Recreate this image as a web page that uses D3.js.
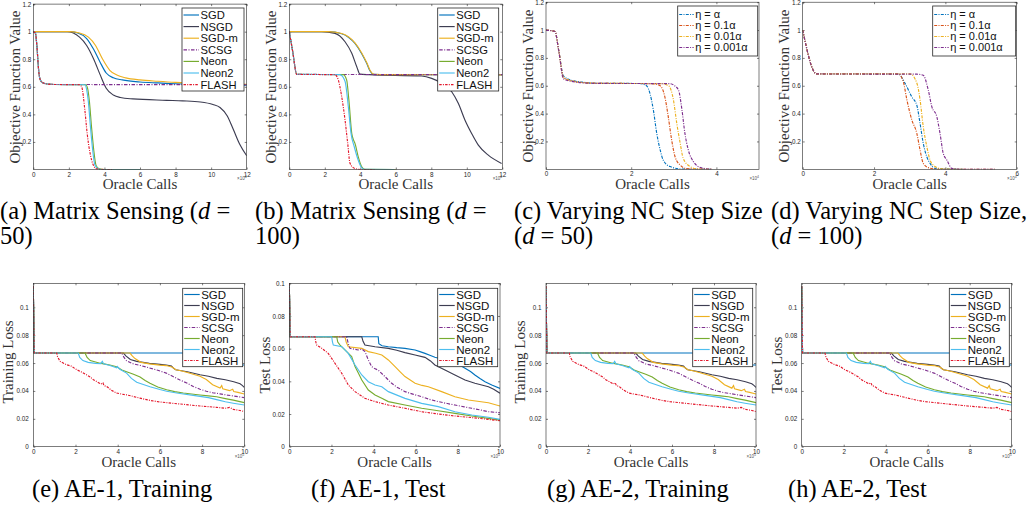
<!DOCTYPE html>
<html>
<head>
<meta charset="utf-8">
<script src="https://cdn.jsdelivr.net/npm/d3@7"></script>
<style>
  body { margin: 0; background: #fff; }
  svg { display: block; }
</style>
</head>
<body>
<svg id="fig" width="1030" height="506"></svg>
<script>
// ---- DATA (x in oracle calls / 10^k, y in objective / loss) ----
const methods = ['SGD', 'NSGD', 'SGD-m', 'SCSG', 'Neon', 'Neon2', 'FLASH'];
const etaLabels = ['η = α', 'η = 0.1α', 'η = 0.01α', 'η = 0.001α'];

// (a) matrix sensing d = 50
const aSGD = [[0,1],[2.0,1],[2.5,0.99],[3.0,0.95],[3.4,0.87],[3.75,0.78],[4.1,0.7],[4.5,0.665],[5,0.65],[6,0.635],[7,0.628],[8,0.622],[9,0.62],[10,0.618],[11,0.615],[12,0.612]];
const aNSGD = [[0,1],[1.9,1],[2.6,0.96],[3.0,0.9],[3.4,0.8],[3.75,0.69],[4.1,0.59],[4.5,0.54],[4.9,0.522],[5.6,0.512],[7.5,0.502],[8.4,0.498],[9.4,0.49],[10.1,0.472],[10.5,0.45],[10.9,0.39],[11.25,0.29],[11.6,0.185],[12,0.1]];
const aSGDm = [[0,1],[2.0,1],[2.6,0.99],[3.1,0.96],[3.5,0.9],[3.9,0.8],[4.3,0.72],[4.7,0.685],[5.2,0.665],[6,0.65],[7,0.64],[8,0.632],[9,0.627],[10,0.622],[11,0.62],[12,0.618]];
const aSCSG = [[0,1],[0.12,0.99],[0.2,0.9],[0.3,0.72],[0.38,0.655],[0.5,0.632],[0.8,0.62],[1.2,0.617],[12,0.615]];
const aNeon = [[0,1],[0.12,0.99],[0.2,0.9],[0.3,0.72],[0.38,0.655],[0.5,0.632],[0.8,0.62],[1.2,0.617],[2.95,0.615],[3.05,0.59],[3.15,0.5],[3.28,0.3],[3.4,0.14],[3.53,0.03],[3.7,0.005],[4,0],[6,0]];
const aNeon2 = [[0,1],[0.12,0.99],[0.2,0.9],[0.3,0.72],[0.38,0.655],[0.5,0.632],[0.8,0.62],[1.2,0.617],[2.9,0.615],[3.0,0.58],[3.09,0.5],[3.22,0.3],[3.34,0.14],[3.47,0.03],[3.66,0.004],[4,0],[6,0]];
const aFLASH = [[0,1],[0.12,0.99],[0.2,0.9],[0.3,0.72],[0.38,0.655],[0.5,0.632],[0.8,0.62],[1.2,0.617],[2.6,0.615],[2.72,0.6],[2.9,0.43],[3.03,0.26],[3.19,0.12],[3.38,0.03],[3.56,0.005],[4,0],[4.5,0]];

// (b) matrix sensing d = 100
const bSGD = [[0,1],[2.2,1],[2.95,0.985],[3.33,0.96],[3.7,0.915],[4.08,0.84],[4.36,0.77],[4.55,0.715],[4.75,0.69],[5.5,0.688],[12,0.687]];
const bNSGD = [[0,1],[1.82,1],[2.57,0.988],[3.14,0.927],[3.52,0.843],[3.8,0.746],[3.98,0.692],[4.5,0.688],[7.46,0.678],[8.02,0.661],[8.59,0.625],[9.15,0.564],[9.52,0.48],[9.9,0.358],[10.28,0.26],[10.65,0.177],[11.21,0.104],[11.96,0.044]];
const bSGDm = [[0,1],[2.2,1],[2.95,0.987],[3.33,0.963],[3.7,0.918],[4.08,0.845],[4.38,0.77],[4.57,0.715],[4.78,0.69],[5.5,0.688],[12,0.687]];
const bSCSG = [[0,1],[0.2,0.85],[0.42,0.69],[12,0.688]];
const bNeon = [[0,1],[0.2,0.85],[0.42,0.69],[3.04,0.688],[3.23,0.65],[3.36,0.5],[3.52,0.26],[3.6,0.22],[3.7,0.19],[3.89,0.09],[4.08,0.02],[4.26,0.002],[6,0]];
const bNeon2 = [[0,1],[0.2,0.85],[0.42,0.69],[2.85,0.688],[3.14,0.64],[3.33,0.45],[3.48,0.26],[3.66,0.165],[3.85,0.08],[4.04,0.02],[4.2,0.002],[5.9,0]];
const bFLASH = [[0,1],[0.2,0.85],[0.42,0.69],[2.57,0.688],[2.76,0.65],[2.95,0.53],[3.14,0.36],[3.29,0.19],[3.42,0.045],[3.7,0.007],[4.0,0],[4.83,0]];

// (c) NC step size, d = 50
const cEta1 = [[0,1],[0.21,0.99],[0.3,0.85],[0.41,0.67],[0.6,0.64],[0.9,0.624],[1.19,0.618],[2.2,0.616],[2.36,0.6],[2.44,0.545],[2.52,0.426],[2.6,0.258],[2.68,0.139],[2.75,0.067],[2.91,0.02],[3.22,0.001],[3.9,0]];
const cEta2 = [[0,1],[0.21,0.99],[0.3,0.85],[0.41,0.66],[0.6,0.635],[0.9,0.622],[1.19,0.618],[2.5,0.615],[2.68,0.6],[2.79,0.52],[2.87,0.378],[2.95,0.21],[3.03,0.09],[3.15,0.03],[3.3,0.005],[3.9,0]];
const cEta3 = [[0,1],[0.21,0.99],[0.3,0.85],[0.41,0.66],[0.6,0.635],[0.9,0.622],[1.19,0.618],[2.7,0.615],[2.88,0.6],[2.99,0.5],[3.07,0.33],[3.15,0.187],[3.22,0.08],[3.38,0.02],[3.55,0.003],[3.9,0]];
const cEta4 = [[0,1],[0.21,0.99],[0.3,0.85],[0.41,0.65],[0.6,0.632],[0.9,0.62],[1.19,0.617],[2.9,0.615],[3.02,0.6],[3.11,0.57],[3.19,0.43],[3.26,0.26],[3.34,0.14],[3.46,0.055],[3.65,0.01],[3.9,0]];

// (d) NC step size, d = 100
const dEta1 = [[0,1],[0.39,0.685],[2.68,0.685],[2.87,0.617],[3.06,0.52],[3.2,0.46],[3.29,0.33],[3.38,0.187],[3.48,0.09],[3.57,0.043],[3.71,0.007],[4.5,0]];
const dEta2 = [[0,1],[0.39,0.685],[2.68,0.685],[2.82,0.63],[2.92,0.5],[3.06,0.354],[3.2,0.258],[3.29,0.139],[3.38,0.043],[3.52,0.012],[3.8,0],[5.4,0]];
const dEta3 = [[0,1],[0.39,0.685],[3.01,0.685],[3.2,0.62],[3.29,0.5],[3.38,0.306],[3.48,0.163],[3.57,0.067],[3.71,0.02],[3.9,0.003],[4.5,0]];
const dEta4 = [[0,1],[0.39,0.685],[3.2,0.683],[3.38,0.675],[3.52,0.57],[3.62,0.45],[3.76,0.378],[3.85,0.258],[3.94,0.115],[4.04,0.067],[4.18,0.007],[4.4,0],[5.39,0]];

// (e) AE-1 training loss
const eSGD = [[0,0.115],[0.04,0.0672],[8.66,0.0672],[8.7,0.0587],[10,0.0586]];
const eNSGD = [[0,0.115],[0.04,0.0672],[4.27,0.0672],[4.4,0.065],[4.6,0.0625],[4.9,0.0612],[5.5,0.0598],[6.0,0.059],[6.3,0.0586],[6.55,0.0578],[6.65,0.0562],[6.75,0.0552],[7.3,0.0538],[7.9,0.0516],[8.3,0.0505],[8.7,0.049],[9.1,0.048],[9.5,0.0466],[9.8,0.0452],[9.9,0.044],[10,0.0425]];
const eSGDm = [[0,0.115],[0.04,0.0672],[4.58,0.0672],[4.7,0.065],[4.82,0.0632],[5.1,0.0605],[5.5,0.0594],[6.0,0.0585],[6.3,0.0582],[6.6,0.057],[6.75,0.0552],[7.0,0.0545],[7.3,0.0532],[7.9,0.0505],[8.2,0.0482],[8.5,0.0445],[8.85,0.042],[8.93,0.0438],[8.98,0.0415],[9.3,0.0402],[9.45,0.0412],[9.5,0.0396],[9.7,0.039],[10,0.0378]];
const eSCSG = [[0,0.115],[0.04,0.0672],[4.19,0.0672],[4.3,0.064],[4.42,0.0617],[4.74,0.0594],[5.1,0.0582],[5.5,0.0565],[5.9,0.0548],[6.3,0.0528],[6.6,0.0505],[6.95,0.0478],[7.3,0.0455],[7.58,0.0432],[7.9,0.0412],[8.2,0.0398],[8.5,0.0387],[8.85,0.0379],[9.2,0.037],[9.48,0.0364],[9.75,0.0358],[10,0.0352]];
const eNeon = [[0,0.115],[0.04,0.0672],[2.45,0.0672],[2.55,0.064],[2.7,0.0618],[3.16,0.0599],[3.4,0.0592],[3.63,0.0586],[3.95,0.0574],[4.2,0.055],[4.42,0.0538],[4.75,0.052],[5.06,0.05],[5.3,0.0475],[5.53,0.0455],[5.9,0.0428],[6.32,0.0408],[6.7,0.0395],[7.11,0.0385],[7.5,0.0378],[7.9,0.0371],[8.3,0.0365],[8.69,0.0358],[9.1,0.0345],[9.48,0.0334],[10,0.0316]];
const eNeon2 = [[0,0.115],[0.04,0.0672],[2.13,0.0672],[2.2,0.064],[2.35,0.0618],[2.6,0.0605],[2.95,0.0598],[3.2,0.0596],[3.27,0.0612],[3.33,0.0595],[3.63,0.0582],[3.95,0.0566],[3.98,0.0575],[4.1,0.0556],[4.42,0.0528],[4.65,0.049],[4.9,0.0462],[5.53,0.043],[6.0,0.041],[6.32,0.0398],[6.8,0.0385],[7.11,0.0378],[7.5,0.037],[7.9,0.0361],[8.3,0.0352],[8.69,0.0338],[9.1,0.0322],[9.48,0.0312],[10,0.0299]];
const eFLASH = [[0,0.115],[0.04,0.0672],[1.11,0.0672],[1.15,0.0645],[1.27,0.0612],[1.58,0.0588],[1.8,0.0578],[2.06,0.0552],[2.3,0.0535],[2.53,0.0515],[2.7,0.05],[2.85,0.048],[3.0,0.0468],[3.2,0.045],[3.3,0.0458],[3.35,0.0438],[3.48,0.0432],[3.7,0.0405],[3.95,0.0385],[4.2,0.0377],[4.42,0.0372],[4.7,0.0362],[5.06,0.0348],[5.3,0.034],[5.53,0.0332],[5.9,0.0323],[6.32,0.0316],[6.7,0.031],[7.11,0.0304],[7.5,0.0298],[7.9,0.0292],[8.3,0.0287],[8.69,0.0282],[9.1,0.0276],[9.3,0.0282],[9.48,0.0268],[9.8,0.026],[10,0.0252]];

// (f) AE-1 test loss
const fSGD = [[0,0.1],[0.04,0.0673],[4.22,0.0673],[4.25,0.063],[4.4,0.0618],[4.7,0.0612],[5.1,0.0606],[5.49,0.0602],[5.97,0.0592],[6.2,0.0582],[6.44,0.0571],[6.7,0.0558],[6.91,0.0547],[7.39,0.0531],[7.86,0.051],[8.1,0.0498],[8.34,0.048],[8.6,0.046],[8.81,0.0439],[9.05,0.0418],[9.29,0.0398],[9.61,0.0378],[10,0.0357]];
const fNSGD = [[0,0.1],[0.04,0.0673],[3.44,0.0673],[3.5,0.0645],[3.59,0.0622],[4.07,0.0612],[4.7,0.0602],[5.1,0.059],[5.49,0.0576],[5.97,0.0561],[6.44,0.0547],[6.7,0.0525],[6.91,0.05],[7.39,0.0469],[7.86,0.0439],[8.34,0.0408],[8.81,0.0388],[9.45,0.0367],[9.7,0.0352],[10,0.0327]];
const fSGDm = [[0,0.1],[0.04,0.0673],[2.64,0.0673],[2.7,0.064],[2.8,0.0612],[3.44,0.0602],[3.75,0.0582],[4.1,0.0572],[4.39,0.0561],[4.7,0.0531],[5.02,0.049],[5.25,0.046],[5.49,0.0429],[5.97,0.0388],[6.3,0.0375],[6.6,0.0367],[7.23,0.0337],[7.86,0.0306],[8.5,0.0286],[9.45,0.0269],[10,0.0249]];
const fSCSG = [[0,0.1],[0.04,0.0673],[2.72,0.0673],[2.8,0.063],[2.88,0.0602],[3.27,0.0592],[3.45,0.0598],[3.59,0.0582],[3.75,0.0531],[3.91,0.049],[4.05,0.0478],[4.22,0.0469],[4.54,0.0429],[4.86,0.0388],[5.1,0.0365],[5.49,0.0337],[5.9,0.032],[6.28,0.0306],[6.7,0.0288],[7.07,0.0276],[7.5,0.0264],[7.86,0.0255],[8.3,0.0244],[8.66,0.0235],[9.1,0.0224],[9.45,0.0214],[10,0.0208]];
const fNeon = [[0,0.1],[0.04,0.0673],[2.25,0.0673],[2.3,0.064],[2.41,0.0622],[2.64,0.0592],[2.96,0.0551],[3.12,0.049],[3.3,0.0445],[3.44,0.0408],[3.75,0.0347],[4.07,0.0316],[4.39,0.0296],[4.7,0.0276],[5.49,0.0255],[6.28,0.0235],[7.07,0.022],[7.86,0.0204],[8.66,0.0188],[9.45,0.0173],[10,0.0163]];
const fNeon2 = [[0,0.1],[0.04,0.0673],[2.01,0.0673],[2.05,0.064],[2.09,0.0622],[2.49,0.0612],[2.8,0.0571],[3.12,0.05],[3.44,0.0439],[3.75,0.0398],[4.07,0.0378],[4.39,0.0367],[4.7,0.0337],[5.49,0.0296],[6.28,0.0265],[7.07,0.0245],[7.86,0.0214],[8.66,0.0194],[9.45,0.018],[10,0.0167]];
const fFLASH = [[0,0.1],[0.04,0.0673],[1.22,0.0673],[1.26,0.064],[1.3,0.0622],[1.54,0.0602],[1.85,0.0571],[2.17,0.051],[2.49,0.0449],[2.8,0.0378],[3.12,0.0337],[3.59,0.0296],[4.07,0.0276],[4.7,0.0255],[5.49,0.0235],[6.28,0.0214],[7.07,0.02],[7.86,0.0188],[8.66,0.0178],[9.45,0.0167],[10,0.0159]];

// (g), (h) AE-2: curves read the same as AE-1 training
const ae2Train = [eSGD, eNSGD, eSGDm, eSCSG, eNeon, eNeon2, eFLASH];
const ae2Test = [eSGD, eNSGD, eSGDm, eSCSG, eNeon, eNeon2, eFLASH];

const topYTicks = [0.2, 0.4, 0.6, 0.8, 1, 1.2];
const lossYTicks = [0, 0.02, 0.04, 0.06, 0.08, 0.1];

// ---- STYLE ----
const methodColors = ['#0072bd', '#3d3d52', '#edb120', '#7e2f8e', '#77ac30', '#4dbeee', '#e3172b'];
const methodDash = [null, null, null, '3.5,1.5,1,1.5', null, null, '2.5,1.2,1,1.2'];
const etaColors = ['#0072bd', '#d95319', '#edb120', '#7e2f8e'];
const etaDash = '3,1.3,1,1.3';
const sans = '"Liberation Sans", Arial, Helvetica, sans-serif';
const serif = '"Liberation Serif", "Times New Roman", serif';
const ink = '#262626';

const svg = d3.select('#fig');
const defs = svg.append('defs');
let clipN = 0;

function panel(p) {
  const x = d3.scaleLinear().domain([0, p.xMax]).range([p.left, p.right]);
  const y = d3.scaleLinear().domain([0, p.yMax]).range([p.bottom, p.top]);
  const g = svg.append('g');
  const id = 'clip' + (clipN++);
  defs.append('clipPath').attr('id', id).append('rect')
    .attr('x', p.left).attr('y', p.top)
    .attr('width', p.right - p.left).attr('height', p.bottom - p.top);

  // box ticks (inward, all four sides)
  function ax(axis, tr) {
    g.append('g').attr('transform', tr).call(axis)
      .attr('font-size', 6.3).attr('font-family', sans).attr('color', ink)
      .call(s => s.select('.domain').remove())
      .call(s => s.selectAll('line').attr('stroke-width', 0.6));
  }
  const xt = d3.range(0, p.xMax + 0.001, 2);
  ax(d3.axisBottom(x).tickValues(xt).tickSizeInner(-2).tickSizeOuter(0).tickPadding(p.xPad).tickFormat(d => d), `translate(0,${p.bottom})`);
  ax(d3.axisTop(x).tickValues(xt).tickSizeInner(-2).tickSizeOuter(0).tickFormat(() => ''), `translate(0,${p.top})`);
  ax(d3.axisLeft(y).tickValues(p.yTicks).tickSizeInner(-2).tickSizeOuter(0).tickPadding(p.yPad).tickFormat(d => d), `translate(${p.left},0)`);
  ax(d3.axisRight(y).tickValues(p.yTicks).tickSizeInner(-2).tickSizeOuter(0).tickFormat(() => ''), `translate(${p.right},0)`);

  // lines
  const line = d3.line().x(d => x(d[0])).y(d => y(d[1])).curve(p.curve);
  g.append('g').attr('clip-path', `url(#${id})`)
    .selectAll('path').data(p.series).join('path')
    .attr('d', d => line(d))
    .attr('fill', 'none')
    .attr('stroke', (d, i) => p.colors[i])
    .attr('stroke-width', 1.15)
    .attr('stroke-dasharray', (d, i) => p.dash[i]);

  g.append('rect').attr('x', p.left).attr('y', p.top)
    .attr('width', p.right - p.left).attr('height', p.bottom - p.top)
    .attr('fill', 'none').attr('stroke', ink).attr('stroke-width', 0.6);

  // axis titles
  g.append('text').attr('x', (p.left + p.right) / 2).attr('y', p.xLabelY)
    .attr('text-anchor', 'middle').attr('font-family', serif).attr('font-size', 15)
    .attr('fill', '#333').text('Oracle Calls');
  g.append('text').attr('transform', `translate(${p.yLabelX},${p.yLabelMid}) rotate(-90)`)
    .attr('text-anchor', 'middle').attr('font-family', serif).attr('font-size', 15)
    .attr('fill', '#333').text(p.yLabel);
  const ex = g.append('text').attr('x', p.right).attr('y', p.xLabelY - 9)
    .attr('text-anchor', 'end').attr('font-family', sans).attr('font-size', 4.5).attr('fill', '#555');
  ex.append('tspan').text('×10');
  ex.append('tspan').attr('dy', -2).attr('font-size', 3.5).text(p.exp);

  // legend
  const L = p.legend;
  const lg = g.append('g');
  lg.append('rect').attr('x', L.x).attr('y', L.y).attr('width', L.w).attr('height', L.h)
    .attr('fill', '#fff').attr('stroke', ink).attr('stroke-width', 0.8);
  p.labels.forEach((lab, i) => {
    const ry = L.y0 + i * L.step;
    lg.append('line').attr('x1', L.x + 1.5).attr('x2', L.x + L.lineW).attr('y1', ry).attr('y2', ry)
      .attr('stroke', p.colors[i]).attr('stroke-width', 1.15).attr('stroke-dasharray', p.dash[i]);
    lg.append('text').attr('x', L.x + L.lineW + 1.5).attr('y', ry).attr('dy', '0.36em')
      .attr('font-family', sans).attr('font-size', L.fs).attr('fill', '#111').text(lab);
  });
}

const mono = d3.curveMonotoneX;
const lin = d3.curveLinear;
const topBase = { xPad: 2.6, yPad: 2, xLabelY: 189, yMax: 1.2, yTicks: topYTicks, exp: '4', yLabel: 'Objective Function Value', curve: mono };
const botBase = { xPad: 2.8, yPad: 4.5, xLabelY: 467, top: 283.3, bottom: 446.7, xMax: 10, exp: '5', yTicks: lossYTicks, curve: lin, labels: methods, colors: methodColors, dash: methodDash };

panel({ ...topBase, left: 33.3, right: 246.7, top: 4.1, bottom: 169.5, xMax: 12,
  series: [aSGD, aNSGD, aSGDm, aSCSG, aNeon, aNeon2, aFLASH], labels: methods, colors: methodColors, dash: methodDash,
  yLabelX: 20, yLabelMid: 87, legend: { x: 182, y: 8, w: 62, h: 83, y0: 15, step: 11.6, lineW: 17, fs: 11.2 } });
panel({ ...topBase, left: 289.3, right: 502.3, top: 4.1, bottom: 169.5, xMax: 12,
  series: [bSGD, bNSGD, bSGDm, bSCSG, bNeon, bNeon2, bFLASH], labels: methods, colors: methodColors, dash: methodDash,
  yLabelX: 276, yLabelMid: 87, legend: { x: 437.7, y: 8, w: 61, h: 83, y0: 15, step: 11.6, lineW: 17, fs: 11.2 } });
panel({ ...topBase, left: 546, right: 759, top: 2.2, bottom: 169.3, xMax: 5,
  series: [cEta1, cEta2, cEta3, cEta4], labels: etaLabels, colors: etaColors, dash: etaColors.map(() => etaDash),
  yLabelX: 533, yLabelMid: 86, legend: { x: 677.7, y: 6, w: 80, h: 50, y0: 14.5, step: 11, lineW: 16, fs: 11 } });
panel({ ...topBase, left: 802.7, right: 1016.7, top: 2.2, bottom: 169.3, xMax: 6,
  series: [dEta1, dEta2, dEta3, dEta4], labels: etaLabels, colors: etaColors, dash: etaColors.map(() => etaDash),
  yLabelX: 789, yLabelMid: 86, legend: { x: 932.7, y: 6, w: 83, h: 50, y0: 14.5, step: 11, lineW: 16, fs: 11 } });

panel({ ...botBase, left: 33.3, right: 244.3, yMax: 0.1172, series: [eSGD, eNSGD, eSGDm, eSCSG, eNeon, eNeon2, eFLASH],
  yLabel: 'Training Loss', yLabelX: 13, yLabelMid: 362, legend: { x: 182.7, y: 288.3, w: 60, h: 78.4, y0: 294.5, step: 11, lineW: 17, fs: 11.5 } });
panel({ ...botBase, left: 289.3, right: 500, yMax: 0.1, series: [fSGD, fNSGD, fSGDm, fSCSG, fNeon, fNeon2, fFLASH],
  yLabel: 'Test Loss', yLabelX: 270, yLabelMid: 365, legend: { x: 437.7, y: 288.3, w: 60, h: 78.4, y0: 294.5, step: 11, lineW: 17, fs: 11.5 } });
panel({ ...botBase, left: 546, right: 756, yMax: 0.1172, series: ae2Train,
  yLabel: 'Training Loss', yLabelX: 525, yLabelMid: 362, legend: { x: 692.7, y: 288.3, w: 60, h: 78.4, y0: 294.5, step: 11, lineW: 17, fs: 11.5 } });
panel({ ...botBase, left: 801.7, right: 1011.7, yMax: 0.1172, series: ae2Test,
  yLabel: 'Test Loss', yLabelX: 782, yLabelMid: 365, legend: { x: 949.3, y: 288.3, w: 60, h: 78.4, y0: 294.5, step: 11, lineW: 17, fs: 11.5 } });

// ---- CAPTIONS ----
function caption(xp, yp, parts) {
  const t = svg.append('text').attr('x', xp).attr('y', yp)
    .attr('font-family', serif).attr('font-size', 24.5).attr('fill', '#000');
  parts.forEach(pt => t.append('tspan').attr('font-style', pt[1] ? 'italic' : null).text(pt[0]));
}
caption(0, 219, [['(a) Matrix Sensing (', 0], ['d', 1], [' =', 0]]);
caption(0, 244, [['50)', 0]]);
caption(255, 219, [['(b) Matrix Sensing (', 0], ['d', 1], [' =', 0]]);
caption(255, 244, [['100)', 0]]);
caption(514, 219, [['(c) Varying NC Step Size', 0]]);
caption(514, 244, [['(', 0], ['d', 1], [' = 50)', 0]]);
caption(771, 219, [['(d) Varying NC Step Size,', 0]]);
caption(771, 244, [['(', 0], ['d', 1], [' = 100)', 0]]);
caption(32, 497, [['(e) AE-1, Training', 0]]);
caption(311, 497, [['(f) AE-1, Test', 0]]);
caption(547, 497, [['(g) AE-2, Training', 0]]);
caption(788, 497, [['(h) AE-2, Test', 0]]);
</script>
</body>
</html>
